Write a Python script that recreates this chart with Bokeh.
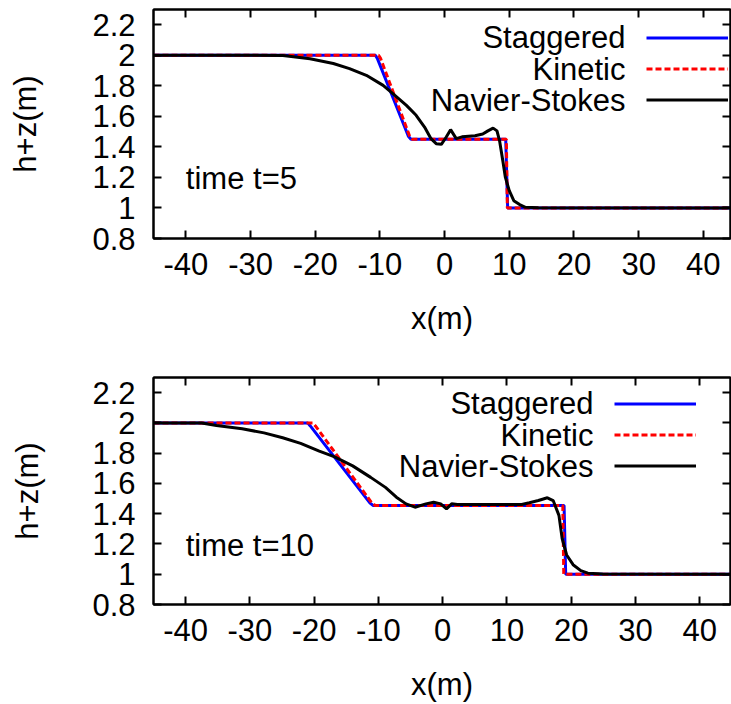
from bokeh.plotting import figure
from bokeh.layouts import column
from bokeh.models import Range1d, LinearAxis, FixedTicker, Label, Legend, LegendItem
from bokeh.embed import file_html
from bokeh.resources import INLINE

# ---------------- data ----------------
x_ticks = [-40, -30, -20, -10, 0, 10, 20, 30, 40]
x_tick_labels = ["-40", "-30", "-20", "-10", "0", "10", "20", "30", "40"]
y_ticks = [0.8, 1.0, 1.2, 1.4, 1.6, 1.8, 2.0, 2.2]
y_tick_labels = ["0.8", "1", "1.2", "1.4", "1.6", "1.8", "2", "2.2"]
series_names = ["Staggered", "Kinetic", "Navier-Stokes"]
panel_titles = ["time t=5", "time t=10"]

# t = 5
stag5_x = [-45, -10.7, -10.4, -5.6, -5.2, 9.45, 9.75, 44.2]
stag5_y = [2.0, 2.0, 1.98, 1.47, 1.45, 1.45, 1.0, 1.0]
kin5_x = [-45, -10.2, -9.9, -5.4, -5.0, 9.55, 9.7, 44.2]
kin5_y = [2.0, 2.0, 1.98, 1.47, 1.45, 1.45, 1.0, 1.0]
ns5_x = [-45, -30, -25, -20.8, -17.2, -14.7, -12.1, -9.5, -8.0, -5.9, -4.4, -3.1,
         -2.1, -1.3, -0.5, 0.26, 0.93, 1.8, 2.7, 4.7, 5.9, 6.7,
         7.5, 8.1, 8.5, 9.0, 9.4, 10.0, 10.7, 11.6, 12.5, 14.5, 44.2]
ns5_y = [2.0, 2.0, 1.999, 1.978, 1.946, 1.913, 1.869, 1.803, 1.749, 1.672, 1.607, 1.530,
         1.454, 1.421, 1.417, 1.465, 1.513, 1.454, 1.466, 1.473, 1.484, 1.505,
         1.523, 1.505, 1.44, 1.309, 1.2, 1.113, 1.048, 1.022, 1.004, 1.002, 1.0]

# t = 10
stag10_x = [-45, -21.0, -20.6, -11.3, -10.8, 18.9, 19.15, 44.8]
stag10_y = [2.0, 2.0, 1.98, 1.47, 1.454, 1.454, 1.0, 1.0]
kin10_x = [-45, -20.2, -19.8, -11.0, -10.5, 18.7, 18.85, 44.8]
kin10_y = [2.0, 2.0, 1.98, 1.47, 1.454, 1.454, 1.0, 1.0]
ns10_x = [-45, -37.5, -35.2, -31.2, -27.8, -24.9, -22.1, -19.2, -16.9, -14.0, -11.2, -8.9,
          -7.2, -5.7, -4.3, -2.6, -1.4, -0.3, 0.6, 1.4, 2.3, 12.3, 13.5, 14.9, 16.3, 17.2,
          18.1, 18.6, 19.3, 20.3, 21.5, 22.6, 24.9, 44.8]
ns10_y = [2.0, 2.0, 1.983, 1.961, 1.934, 1.902, 1.865, 1.814, 1.777, 1.716, 1.640, 1.574,
          1.509, 1.465, 1.443, 1.465, 1.476, 1.465, 1.432, 1.465, 1.461, 1.461, 1.472, 1.487, 1.505, 1.487,
          1.389, 1.236, 1.127, 1.063, 1.024, 1.007, 1.002, 1.0]

FONT = "Liberation Sans"
FS = "31px"
COLORS = ["#0000ff", "#ff0000", "#000000"]


def style_axis(ax, labels=True):
    ax.major_tick_in = 8
    ax.major_tick_out = 0
    ax.minor_tick_line_color = None
    ax.axis_line_width = 2
    ax.major_tick_line_width = 2
    ax.major_label_text_font = FONT
    if labels:
        ax.major_label_text_font_size = FS
        ax.major_label_text_color = "black"
    else:
        ax.major_label_text_font_size = "1px"
        ax.major_label_text_color = None
        ax.major_label_standoff = 0
    ax.axis_label_text_font = FONT
    ax.axis_label_text_font_size = FS
    ax.axis_label_text_font_style = "normal"
    ax.axis_label_text_color = "black"


def make_panel(xs, ys, title, xmax, height, bl, bt, bb, lab_x, leg_x, ys1, ys2):
    p = figure(width=731, height=height, output_backend="svg", toolbar_location=None,
               x_range=Range1d(-45, xmax), y_range=Range1d(0.8, 2.3),
               min_border_left=bl, min_border_right=1, min_border_top=bt, min_border_bottom=bb,
               background_fill_color="white", border_fill_color="white")
    p.grid.visible = False
    p.outline_line_color = "black"
    p.outline_line_width = 2

    xa = p.xaxis[0]
    ya = p.yaxis[0]
    style_axis(xa)
    style_axis(ya)
    xa.ticker = FixedTicker(ticks=x_ticks)
    xa.major_label_overrides = {t: l for t, l in zip(x_ticks, x_tick_labels)}
    ya.ticker = FixedTicker(ticks=y_ticks)
    ya.major_label_overrides = {t: l for t, l in zip(y_ticks, y_tick_labels)}
    xa.axis_label = "x(m)"
    ya.axis_label = "h+z(m)"
    xa.major_label_standoff = 14
    xa.axis_label_standoff = 23
    ya.major_label_standoff = ys1
    ya.axis_label_standoff = ys2

    top_ax = LinearAxis(ticker=FixedTicker(ticks=x_ticks))
    style_axis(top_ax, labels=False)
    p.add_layout(top_ax, "above")
    right_ax = LinearAxis(ticker=FixedTicker(ticks=y_ticks))
    style_axis(right_ax, labels=False)
    p.add_layout(right_ax, "right")

    rs = []
    for i, (x, y) in enumerate(zip(xs, ys)):
        r = p.line(x, y, line_color=COLORS[i], line_width=3,
                   line_dash="6 3" if i == 1 else "solid")
        rs.append(r)

    leg = Legend(items=[LegendItem(label=" ", renderers=[r]) for r in rs],
                 location=(leg_x, 123), orientation="vertical",
                 glyph_width=82, glyph_height=31, label_width=0, label_height=31,
                 label_standoff=0, spacing=0, padding=0, margin=0,
                 label_text_font_size="1px", label_text_color=None,
                 border_line_alpha=0, background_fill_alpha=0)
    p.add_layout(leg, "center")

    for k, name in enumerate(series_names):
        p.add_layout(Label(x=lab_x, y=201 - 31.5 * k, x_units="screen", y_units="screen",
                           text=name, text_align="right", text_baseline="middle",
                           text_font=FONT, text_font_size=FS, text_color="black"))

    p.add_layout(Label(x=-40, y=1.19, text=title, text_align="left", text_baseline="middle",
                       text_font=FONT, text_font_size=FS, text_color="black"))
    return p


p1 = make_panel([stag5_x, kin5_x, ns5_x], [stag5_y, kin5_y, ns5_y], panel_titles[0], 44.2,
                370, 153, 9, 132, 472, 493, 18, 46)
p2 = make_panel([stag10_x, kin10_x, ns10_x], [stag10_y, kin10_y, ns10_y], panel_titles[1], 44.8,
                334, 148, 7, 98, 440, 461, 18, 44)

layout = column(p1, p2, spacing=0)
open("out.html", "w").write(file_html(layout, INLINE))
